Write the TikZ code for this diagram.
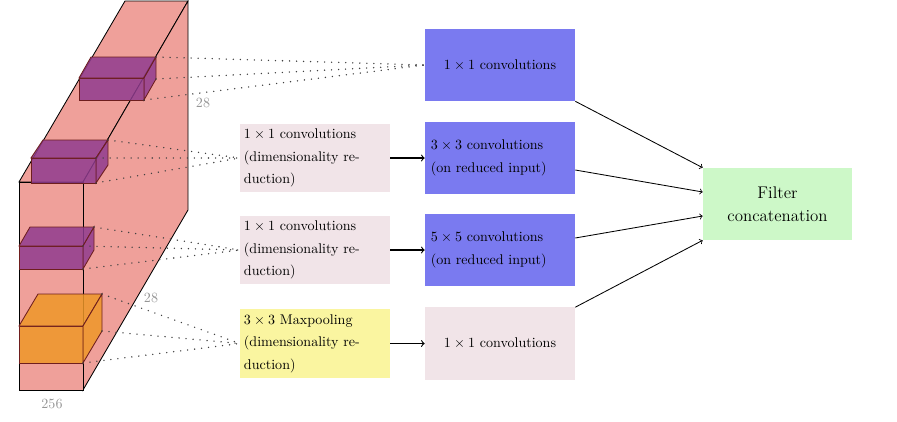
\documentclass[tikz,border=0pt]{standalone}
\definecolor{blockpink}{RGB}{239,160,154}
\definecolor{cubepurple}{RGB}{144,60,143}
\definecolor{cubeorange}{RGB}{238,151,41}
\definecolor{cubeedge}{RGB}{110,30,30}
\definecolor{convblue}{RGB}{122,122,240}
\definecolor{redpink}{RGB}{241,228,232}
\definecolor{poolyellow}{RGB}{250,245,160}
\definecolor{concatgreen}{RGB}{205,248,200}
\definecolor{dimgray}{RGB}{150,150,150}
\newcommand{\linefont}{\fontsize{10}{16}\selectfont}
\begin{document}
\begin{tikzpicture}[x=0.025cm, y=-0.025cm,
  blockface/.style={draw=black, semithick, fill=blockpink},
  cubeface/.style={draw=cubeedge, semithick, fill opacity=0.85},
  dotline/.style={black!75, line width=1.1pt, line cap=round, dash pattern=on 0pt off 5pt},
  dimlabel/.style={text=dimgray, font=\normalsize},
  box/.style={minimum height=1.8cm, inner xsep=0.15cm, font=\linefont},
  convbox/.style={box, fill=convblue, text width=3.45cm, align=left},
  convone/.style={box, minimum width=3.75cm, align=center},
  redbox/.style={box, minimum height=1.72cm, inner xsep=0.1cm, text width=3.55cm, align=left},
  flow/.style={->, thick},
  merge/.style={->, semithick}]
\useasboundingbox (0,0) rectangle (897,422); % picture frame

% big input block
\filldraw[blockface] (19,182) -- (125,1) -- (188,1) -- (83,182) -- cycle; % top face
\filldraw[blockface] (83,182) -- (188,1) -- (188,210) -- (83,390) -- cycle; % right face
\filldraw[blockface] (19,182) rectangle (83,390); % front face
\node[dimlabel] (hgt) at (203,103) {28}; % height label
\node[dimlabel] (dep) at (151,298) {28}; % depth label
\node[dimlabel] (wid) at (52,404) {256}; % width label

% small cubes in the block
\filldraw[cubeface, fill=cubepurple] (79,78) rectangle (144,100); % cube 1 front
\filldraw[cubeface, fill=cubepurple] (79,78) -- (91,57) -- (156,57) -- (144,78) -- cycle; % cube 1 top
\filldraw[cubeface, fill=cubepurple] (144,78) -- (156,57) -- (156,79) -- (144,100) -- cycle; % cube 1 side
\filldraw[cubeface, fill=cubepurple] (31,158) rectangle (96,183); % cube 2 front
\filldraw[cubeface, fill=cubepurple] (31,158) -- (43,140) -- (108,140) -- (96,158) -- cycle; % cube 2 top
\filldraw[cubeface, fill=cubepurple] (96,158) -- (108,140) -- (108,165) -- (96,183) -- cycle; % cube 2 side
\filldraw[cubeface, fill=cubepurple] (19,246) rectangle (83,269); % cube 3 front
\filldraw[cubeface, fill=cubepurple] (19,246) -- (30,227) -- (94,227) -- (83,246) -- cycle; % cube 3 top
\filldraw[cubeface, fill=cubepurple] (83,246) -- (94,227) -- (94,250) -- (83,269) -- cycle; % cube 3 side
\filldraw[cubeface, fill=cubeorange] (19,326) rectangle (83,363); % cube 4 front
\filldraw[cubeface, fill=cubeorange] (19,326) -- (38,294) -- (102,294) -- (83,326) -- cycle; % cube 4 top
\filldraw[cubeface, fill=cubeorange] (83,326) -- (102,294) -- (102,331) -- (83,363) -- cycle; % cube 4 side

% corners the dotted rays leave from
\coordinate (c1a) at (156,57);
\coordinate (c1b) at (156,79);
\coordinate (c1c) at (144,100);
\coordinate (c2a) at (108,140);
\coordinate (c2b) at (96,158);
\coordinate (c2c) at (96,183);
\coordinate (c3a) at (94,227);
\coordinate (c3b) at (83,246);
\coordinate (c3c) at (83,269);
\coordinate (c4a) at (102,294);
\coordinate (c4b) at (102,331);
\coordinate (c4c) at (83,363);

% inception branches
\node[convone, fill=convblue] (convA) at (500,65) {$1\times1$ convolutions}; % 1x1 branch
\node[redbox, fill=redpink] (redA) at (315,158) {$1\times1$ convolutions\\(dimensionality re-\\duction)};
\node[convbox] (convB) at (500,158) {$3\times3$ convolutions\\(on reduced input)};
\node[redbox, fill=redpink] (redB) at (315,250) {$1\times1$ convolutions\\(dimensionality re-\\duction)};
\node[convbox] (convC) at (500,250) {$5\times5$ convolutions\\(on reduced input)};
\node[redbox, fill=poolyellow] (pool) at (315,343.5) {$3\times3$ Maxpooling\\(dimensionality re-\\duction)};
\node[convone, fill=redpink] (convD) at (500,343.5) {$1\times1$ convolutions};
\node[box, fill=concatgreen, minimum width=3.725cm, align=center] (filter) at (777.5,204) {\large Filter\\\large concatenation};

% dotted rays
\foreach \c in {c1a,c1b,c1c} \draw[dotline] (\c) -- (convA.west);
\foreach \c in {c2a,c2b,c2c} \draw[dotline] (\c) -- (redA.west);
\foreach \c in {c3a,c3b,c3c} \draw[dotline] (\c) -- (redB.west);
\foreach \c in {c4a,c4b,c4c} \draw[dotline] (\c) -- (pool.west);

% arrows
\draw[flow] (redA) -- (convB);
\draw[flow] (redB) -- (convC);
\draw[flow] (pool) -- (convD);
\draw[merge] (convA.south east) -- (filter.north west);
\draw[merge] ([yshift=-0.3cm]convB.east) -- ([yshift=0.3cm]filter.west);
\draw[merge] ([yshift=0.3cm]convC.east) -- ([yshift=-0.3cm]filter.west);
\draw[merge] (convD.north east) -- (filter.south west);
\end{tikzpicture}
\end{document}
